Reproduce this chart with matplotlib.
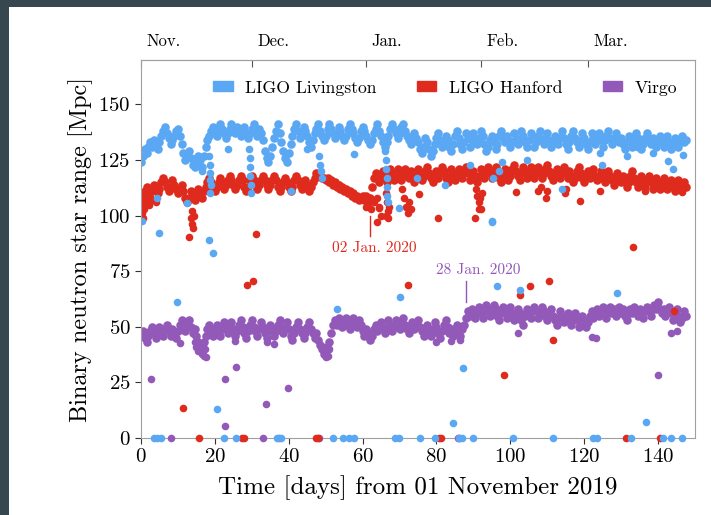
import numpy as np
import matplotlib
matplotlib.use('Agg')
import matplotlib.pyplot as plt
from matplotlib.patches import Patch, Rectangle
import matplotlib.transforms as mtransforms

plt.rcParams['font.family'] = 'cmr10'
plt.rcParams['mathtext.fontset'] = 'cm'
plt.rcParams['axes.formatter.use_mathtext'] = True

# main bands, one value every half day starting at day 0
livingston = [
    124, 127, 130, 128, 131, 133, 131, 134, 132, 130,
    133, 136, 138, 140, 137, 135, 132, 134, 136, 138,
    139, 136, 132, 128, 125, 127, 129, 126, 123, 122,
    124, 127, 125, 122, 127, 131, 134, 136, 138, 140,
    138, 136, 139, 141, 139, 137, 135, 137, 139, 141,
    139, 137, 140, 138, 136, 138, 140, 137, 135, 137,
    139, 141, 138, 136, 139, 137, 134, 129, 126, 124,
    127, 131, 135, 138, 141, 137, 133, 129, 126, 124,
    128, 132, 136, 139, 141, 138, 135, 137, 140, 138,
    136, 133, 131, 134, 137, 139, 141, 138, 136, 134,
    136, 139, 141, 139, 137, 135, 137, 140, 138, 136,
    134, 136, 139, 141, 139, 137, 135, 133, 135, 138,
    140, 138, 136, 134, 132, 134, 137, 139, 141, 138,
    136, 133, 131, 133, 136, 139, 141, 139, 137, 135,
    137, 140, 141, 138, 136, 134, 132, 134, 137, 135,
    133, 130, 128, 131, 135, 133, 130, 127, 129, 132,
    135, 137, 134, 131, 133, 136, 134, 131, 129, 132,
    136, 138, 135, 132, 130, 133, 137, 135, 131, 134,
    137, 134, 132, 135, 138, 136, 132, 129, 131, 134,
    136, 133, 130, 132, 136, 138, 135, 133, 136, 134,
    131, 133, 137, 135, 132, 134, 138, 136, 133, 131,
    134, 137, 135, 131, 133, 136, 138, 134, 132, 135,
    137, 134, 131, 133, 136, 134, 132, 135, 138, 135,
    132, 130, 133, 136, 138, 135, 133, 131, 134, 137,
    135, 132, 130, 133, 137, 135, 132, 134, 137, 134,
    131, 134, 136, 138, 135, 132, 134, 137, 135, 133,
    135, 132, 130, 133, 136, 134, 131, 134, 137, 135,
    133, 130, 132, 135, 137, 134, 132, 135, 133, 131,
    134, 136, 133, 131, 134, 136, 133, 130, 132, 135,
    133, 131, 134, 136, 133, 134,
]

hanford = [
    106, 109, 111, 113, 110, 108, 111, 114, 112, 110,
    112, 115, 117, 115, 113, 111, 113, 116, 114, 112,
    110, 112, 114, 111, 108, 106, 108, 111, 109, 107,
    109, 112, 110, 108, 111, 113, 115, 117, 115, 113,
    111, 113, 115, 117, 115, 112, 114, 116, 118, 116,
    114, 112, 114, 116, 118, 116, 113, 111, 113, 116,
    118, 116, 114, 112, 114, 116, 118, 116, 114, 112,
    114, 116, 118, 116, 113, 111, 113, 115, 117, 115,
    113, 111, 113, 116, 118, 116, 114, 112, 114, 116,
    114, 111, 113, 115, 117, 119, 118, 118, 117, 117,
    116, 117, 115, 116, 114, 115, 113, 114, 112, 113,
    111, 112, 110, 111, 109, 110, 108, 109, 107, 108,
    109, 107, 109, 106, 108, 113, 117, 119, 117, 115,
    117, 120, 118, 115, 117, 121, 119, 116, 118, 121,
    119, 116, 118, 121, 119, 117, 120, 118, 115, 118,
    121, 119, 116, 118, 120, 122, 119, 117, 115, 118,
    120, 117, 119, 122, 120, 117, 115, 118, 121, 119,
    116, 118, 121, 119, 117, 120, 122, 119, 116, 118,
    120, 117, 115, 118, 121, 119, 117, 120, 122, 119,
    117, 120, 122, 119, 117, 115, 118, 121, 119, 116,
    118, 121, 123, 120, 118, 116, 119, 122, 120, 117,
    119, 122, 120, 117, 119, 122, 120, 117, 119, 121,
    123, 120, 118, 116, 119, 121, 119, 117, 120, 122,
    119, 117, 120, 118, 115, 117, 120, 122, 119, 117,
    115, 118, 120, 117, 119, 121, 118, 116, 118, 120,
    117, 115, 118, 120, 118, 116, 114, 117, 119, 117,
    115, 118, 116, 113, 115, 118, 120, 117, 115, 113,
    116, 118, 115, 113, 116, 118, 115, 112, 114, 117,
    115, 112, 114, 117, 115, 112, 113, 116, 114, 111,
    113, 116, 114, 112, 115, 113,
]

virgo = [
    46, 48, 45, 43, 46, 48, 50, 47, 45, 48,
    50, 48, 46, 49, 51, 48, 46, 49, 47, 45,
    48, 51, 53, 50, 48, 51, 53, 50, 47, 49,
    46, 43, 41, 40, 43, 46, 49, 51, 48, 46,
    49, 51, 48, 46, 49, 52, 50, 47, 50, 52,
    49, 46, 48, 51, 53, 50, 47, 45, 48, 51,
    53, 50, 48, 46, 49, 52, 50, 47, 45, 48,
    51, 49, 46, 48, 51, 53, 50, 47, 49, 52,
    49, 46, 44, 47, 50, 52, 49, 47, 45, 47,
    50, 52, 49, 47, 45, 47, 44, 42, 40, 38,
    37, 40, 43, 47, 51, 53, 51, 54, 52, 50,
    51, 54, 52, 49, 51, 54, 52, 50, 53, 51,
    48, 46, 49, 47, 44, 46, 49, 51, 48, 50,
    52, 49, 47, 50, 53, 51, 48, 50, 53, 51,
    49, 52, 54, 51, 49, 47, 50, 52, 49, 51,
    53, 50, 48, 46, 49, 51, 48, 46, 49, 52,
    50, 47, 45, 48, 51, 53, 50, 47, 49, 46,
    49, 51, 48, 46, 49, 51, 54, 57, 55, 58,
    56, 54, 57, 59, 56, 54, 57, 60, 58, 55,
    57, 60, 58, 55, 53, 56, 59, 57, 54, 57,
    59, 56, 53, 55, 58, 56, 53, 51, 55, 58,
    56, 54, 57, 59, 57, 54, 56, 59, 57, 55,
    53, 56, 58, 55, 53, 51, 54, 57, 55, 52,
    54, 56, 53, 51, 54, 56, 53, 50, 52, 55,
    53, 50, 52, 55, 57, 54, 56, 58, 55, 57,
    59, 56, 54, 57, 59, 56, 58, 55, 57, 59,
    56, 58, 55, 53, 56, 58, 56, 59, 57, 55,
    58, 56, 54, 57, 59, 57, 55, 58, 60, 58,
    61, 58, 56, 58, 55, 57, 59, 56, 53, 56,
    58, 55, 52, 54, 57, 55,
]

# dips and scattered points (day, range)
ll_extra_t = [18.5, 18.6, 18.7, 18.8, 18.9, 18.8, 29.3, 29.4, 29.5, 29.6, 29.7, 29.8,
              48.3, 48.5, 48.7, 48.9, 66.2, 66.3, 66.4, 66.5, 66.6, 66.7, 66.8,
              4.2, 12.4, 16.4, 23.6, 34.0, 45.0, 57.7, 40.5, 69.9, 74.7, 82.4, 95.0,
              96.8, 95.2, 89.2, 97.7, 104.5, 113.9, 124.7, 124.3, 131.5, 138.7, 142.8,
              144.1, 146.8, 134.2,
              0.2, 4.9, 18.5, 19.4, 9.7, 53.2, 70.2, 20.7, 96.4, 102.5, 128.9, 87.3,
              84.6, 136.6, 95.0]
ll_extra_v = [127, 123, 119, 116, 114, 110, 130, 126, 122, 118, 114, 110,
              127, 123, 120, 117, 129, 125, 121, 117, 113, 109, 106,
              108, 105.7, 120, 130, 126, 130, 127.6, 111, 103.5, 117, 114, 97.6,
              120, 117, 123, 124, 125, 112, 123, 128, 127, 128, 124.5,
              121, 127.5, 131,
              97.5, 92.4, 89.1, 83, 61, 57.8, 63.3, 13.1, 68.2, 66.7, 65.1, 31.5,
              6.9, 7.0, 97.2]
ll_zero_t = [3.4, 4.2, 5.3, 22.5, 25.8, 36.7, 37.9, 52.0, 54.8, 56.4, 57.8, 68.8,
             69.9, 75.6, 79.5, 86.1, 87.0, 90.0, 100.8, 111.6, 122.4, 123.5, 132.8,
             141.3, 143.4, 146.5]

lh_extra_t = [0.2, 0.4, 0.6, 0.8, 1.5, 2.2, 3.0, 4.0,
              13.1, 13.7, 14.1, 13.5, 14.3, 13.9,
              61.0, 61.5, 62.3, 63.2, 63.8, 64.5, 65.0, 66.4, 66.6, 66.8, 66.9, 67.2,
              64.0, 64.5, 66.3,
              70.8, 71.3, 71.8, 72.2, 72.6, 73.0,
              90.6, 91.0, 91.4, 91.8, 92.0, 92.3,
              75.2, 80.5, 90.5, 91.5, 101.6, 107.5, 108.3, 109.6, 109.8, 114.8,
              118.8, 124.3, 136.5, 146.4, 146.8, 115.0,
              11.3, 28.6, 30.2, 31.1, 72.2, 102.5, 105.4, 110.6, 111.6, 98.4,
              133.2, 144.3]
lh_extra_v = [104, 101, 99, 103, 106, 105, 107, 106,
              90.2, 96.4, 94.6, 99, 100, 102,
              104, 105, 103, 106, 108, 104, 100, 110, 106, 102, 99, 104,
              97.2, 103.5, 99.8,
              112, 108, 104, 101, 106, 103,
              112, 109, 106, 108, 103, 110,
              109.7, 99, 99, 103, 110.7, 111, 113, 108, 111, 110,
              106.6, 111, 111, 110.5, 113, 112,
              13.7, 68.8, 70.8, 91.9, 68.8, 64.5, 68.4, 70.8, 43.9, 28.5,
              85.7, 57]
lh_zero_t = [15.6, 27.4, 27.9, 47.4, 47.9, 80.6, 81.2, 131.4, 140.5]

v_extra_t = [10.5, 14.5, 15.0, 15.5, 16.5, 17.0, 17.6, 17.2, 16.0, 25.5,
             50.2, 49.8, 50.5, 51.0, 49.5, 34.0, 36.0, 80.0, 84.0, 86.5,
             102.0, 123.3, 122.0, 143.5, 145.0,
             2.6, 22.8, 25.7, 22.8, 33.8, 39.7, 139.9]
v_extra_v = [42.8, 43, 41, 39, 38, 37, 36.4, 40, 42, 43.5,
             36.4, 38, 37, 40, 41, 43, 42.5, 43.1, 43.5, 44,
             47.2, 44.9, 45.4, 47, 48,
             26.6, 26.7, 31.9, 5.5, 15.1, 22.5, 28.5]
v_zero_t = [8.0, 33.0, 37.3, 48.2, 85.7, 86.2]

month_days = [0, 30, 61, 92, 121]
month_labels = ['Nov.', 'Dec.', 'Jan.', 'Feb.', 'Mar.']

c_ll = '#5aa7f3'
c_lh = '#df2a1e'
c_v = '#9359b8'

fig = plt.figure(figsize=(7.11, 5.15), dpi=100, facecolor='#37474f')
fig.patches.append(Rectangle((9 / 711, 0), 1, 1 - 7 / 515, transform=fig.transFigure,
                             facecolor='white', edgecolor='none', zorder=-10))
ax = fig.add_axes([141 / 711, 77 / 515, 554 / 711, 378 / 515])

s = 38
for vals, ext_t, ext_v, zero_t, col in [(virgo, v_extra_t, v_extra_v, v_zero_t, c_v),
                                       (hanford, lh_extra_t, lh_extra_v, lh_zero_t, c_lh),
                                       (livingston, ll_extra_t, ll_extra_v, ll_zero_t, c_ll)]:
    t = np.arange(len(vals)) * 0.5
    ax.scatter(t, vals, s=s, color=col, linewidths=0)
    ax.scatter(ext_t, ext_v, s=30, color=col, linewidths=0)
    ax.scatter(zero_t, np.zeros(len(zero_t)), s=30, color=col, linewidths=0,
               clip_on=False, zorder=3)

ax.set_xlim(0, 150)
ax.set_ylim(0, 170)
ax.set_xticks(range(0, 141, 20))
ax.set_yticks(range(0, 151, 25))
ax.tick_params(labelsize=15, length=4, color='#333333')
for sp in ax.spines.values():
    sp.set_color('#a0a0a0')
ax.set_xlabel('Time [days] from 01 November 2019', fontsize=18, labelpad=6)
ax.set_ylabel('Binary neutron star range [Mpc]', fontsize=17.5)

sec = ax.secondary_xaxis('top')
sec.set_xticks(month_days)
sec.set_xticklabels(month_labels, fontsize=12, ha='left')
sec.tick_params(direction='in', length=5, pad=8, color='#555555')
sec.spines['top'].set_color('#a0a0a0')
off = mtransforms.ScaledTranslation(4 / 72, 0, fig.dpi_scale_trans)
for lab in sec.get_xticklabels():
    lab.set_transform(lab.get_transform() + off)

# annotations
ax.plot([62, 62], [91, 100], color=c_lh, lw=1)
ax.text(63.2, 85.5, '02 Jan. 2020', color=c_lh, fontsize=11, ha='center', va='center')
ax.plot([88, 88], [61, 70.5], color=c_v, lw=1)
ax.text(91.3, 75.7, '28 Jan. 2020', color=c_v, fontsize=11, ha='center', va='center')

handles = [Patch(color=c_ll, label='LIGO Livingston'),
           Patch(color=c_lh, label='LIGO Hanford'),
           Patch(color=c_v, label='Virgo')]
ax.legend(handles=handles, loc='center', bbox_to_anchor=(0.549, 0.926), ncol=3,
          frameon=False, fontsize=12.7, handlelength=1.1, handleheight=0.5,
          handletextpad=0.7, columnspacing=2.3)

plt.savefig('out.png', dpi=100, facecolor=fig.get_facecolor())
